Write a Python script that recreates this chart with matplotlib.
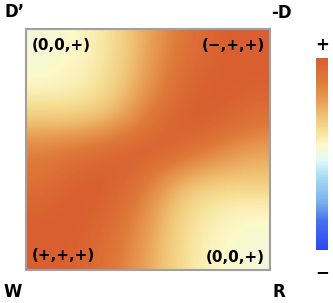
import numpy as np
import matplotlib
matplotlib.use("Agg")
import matplotlib.pyplot as plt
from matplotlib.colors import LinearSegmentedColormap

# field values (rows top -> bottom, cols left -> right)
field = [
    [0.52, 0.54, 0.57, 0.65, 0.76, 0.87, 0.95, 1.00, 1.00],
    [0.53, 0.55, 0.58, 0.66, 0.78, 0.90, 0.98, 1.00, 1.00],
    [0.58, 0.58, 0.61, 0.69, 0.82, 0.94, 1.00, 1.00, 0.97],
    [0.70, 0.70, 0.72, 0.78, 0.90, 0.99, 1.00, 0.96, 0.90],
    [0.86, 0.88, 0.92, 0.97, 1.00, 0.97, 0.90, 0.82, 0.77],
    [0.90, 0.96, 1.00, 0.99, 0.90, 0.78, 0.72, 0.70, 0.70],
    [0.97, 1.00, 1.00, 0.94, 0.82, 0.69, 0.61, 0.58, 0.58],
    [1.00, 1.00, 0.98, 0.90, 0.78, 0.66, 0.58, 0.55, 0.53],
    [1.00, 1.00, 0.95, 0.87, 0.76, 0.65, 0.57, 0.54, 0.52],
]

corner_labels = ["D\u2019", "-D", "W", "R"]
region_labels = ["(0,0,+)", "(\u2212,+,+)", "(+,+,+)", "(0,0,+)"]
cbar_labels = ["+", "\u2212"]

cmap_stops = [0.0, 0.15, 0.25, 0.38, 0.47, 0.55, 0.62, 0.70, 0.78, 0.88, 1.0]
cmap_colors = ["#2a48f2", "#4870ee", "#78b0ee", "#a8dcf4", "#e0faf8", "#fdf8c8",
               "#f6e096", "#f0c274", "#e89e56", "#df7a3a", "#d95f30"]
cmap = LinearSegmentedColormap.from_list("wave", list(zip(cmap_stops, cmap_colors)))

W, H = 333, 303
fig = plt.figure(figsize=(W / 100, H / 100), dpi=100)

def fx(px):
    return px / W

def fy(py):
    return 1 - py / H

ax = fig.add_axes([fx(26), fy(270), fx(244), 241 / H])
im = ax.imshow(np.array(field), cmap=cmap, vmin=0, vmax=1,
               interpolation="bicubic", aspect="auto", extent=[0, 1, 0, 1])
ax.set_xticks([])
ax.set_yticks([])
for s in ax.spines.values():
    s.set_color("#a0a0a0")
    s.set_linewidth(1.5)

cax = fig.add_axes([fx(316), fy(250), fx(12), 192 / H])
cb = fig.colorbar(im, cax=cax)
cb.set_ticks([])
cb.outline.set_visible(False)

bold = dict(fontweight="bold", family="DejaVu Sans")

# outer corner labels
fig.text(fx(4), fy(12), corner_labels[0], ha="left", va="center", fontsize=12, **bold)
fig.text(fx(292), fy(13), corner_labels[1], ha="right", va="center", fontsize=12, **bold)
fig.text(fx(3), fy(292), corner_labels[2], ha="left", va="center", fontsize=12, **bold)
fig.text(fx(285), fy(292), corner_labels[3], ha="right", va="center", fontsize=12, **bold)

# labels inside the map
fig.text(fx(32), fy(46), region_labels[0], ha="left", va="center", fontsize=11, **bold)
fig.text(fx(265), fy(46), region_labels[1], ha="right", va="center", fontsize=11, **bold)
fig.text(fx(32), fy(255), region_labels[2], ha="left", va="center", fontsize=11, **bold)
fig.text(fx(265), fy(258), region_labels[3], ha="right", va="center", fontsize=11, **bold)

# colorbar ends
fig.text(fx(322), fy(45), cbar_labels[0], ha="center", va="center", fontsize=12, **bold)
fig.text(fx(322), fy(272), cbar_labels[1], ha="center", va="center", fontsize=12, **bold)

fig.savefig("out.png", dpi=100)
